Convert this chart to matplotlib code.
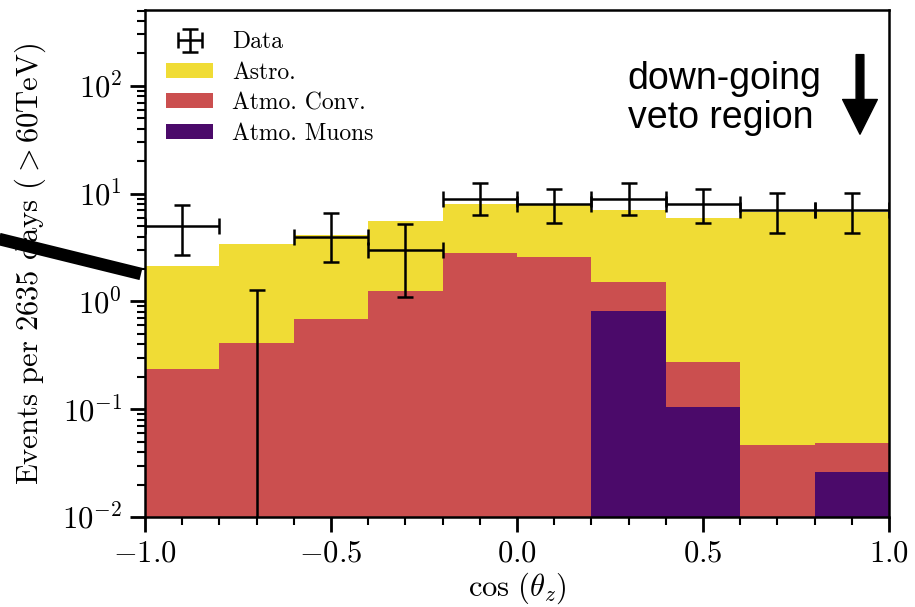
import numpy as np
import matplotlib
matplotlib.use("Agg")
import matplotlib.pyplot as plt
from matplotlib.patches import Patch
from matplotlib.lines import Line2D

plt.rcParams['font.family'] = 'serif'
plt.rcParams['font.serif'] = ['cmr10', 'DejaVu Serif']
plt.rcParams['mathtext.fontset'] = 'cm'
plt.rcParams['axes.formatter.use_mathtext'] = True
plt.rcParams['axes.unicode_minus'] = True

# ---- data ----
bin_edges = [-1.0, -0.8, -0.6, -0.4, -0.2, 0.0, 0.2, 0.4, 0.6, 0.8, 1.0]
atmo_muons = [0.0, 0.0, 0.0, 0.0, 0.0, 0.0, 0.81, 0.104, 0.0, 0.026]
atmo_conv = [0.234, 0.41, 0.68, 1.26, 2.84, 2.61, 0.69, 0.168, 0.047, 0.023]
astro = [1.92, 3.03, 3.42, 4.36, 5.24, 5.29, 5.60, 5.73, 6.75, 6.70]
data_counts = [5.0, 0.0, 4.0, 3.0, 9.0, 8.0, 9.0, 8.0, 7.0, 7.0]
data_err_lo = [2.28, 0.0, 1.70, 1.90, 2.60, 2.70, 2.60, 2.70, 2.70, 2.70]
data_err_hi = [2.90, 1.29, 2.67, 2.27, 3.60, 3.10, 3.60, 3.10, 3.20, 3.20]

col_astro = '#f0dc35'
col_conv = '#cb4f4f'
col_muon = '#4b0a6a'

edges = np.array(bin_edges)
centers = 0.5 * (edges[:-1] + edges[1:])
widths = np.diff(edges)
mu = np.array(atmo_muons)
cv = np.array(atmo_conv)
ast = np.array(astro)

fig = plt.figure(figsize=(9.15, 6.07), dpi=100)
ax = fig.add_axes([145/915, 1-517/607, (889-145)/915, (517-10)/607])

ax.bar(centers, mu, width=widths, bottom=0, color=col_muon, linewidth=0, align='center')
ax.bar(centers, cv, width=widths, bottom=mu, color=col_conv, linewidth=0, align='center')
ax.bar(centers, ast, width=widths, bottom=mu + cv, color=col_astro, linewidth=0, align='center')

eb = ax.errorbar(centers, data_counts, xerr=widths / 2,
                 yerr=[data_err_lo, data_err_hi], fmt='none', ecolor='black',
                 elinewidth=1.8, capsize=5.5, capthick=1.8, zorder=5)

ax.set_yscale('log')
ax.set_xlim(-1.0, 1.0)
ax.set_ylim(1e-2, 506)

ax.xaxis.set_major_locator(matplotlib.ticker.MultipleLocator(0.5))
ax.xaxis.set_minor_locator(matplotlib.ticker.MultipleLocator(0.1))
ax.tick_params(which='both', direction='out', top=False, right=False, labelsize=22)
ax.tick_params(which='major', length=10.5, width=2.0, pad=6)
ax.tick_params(which='minor', length=5.5, width=1.5)
for s in ax.spines.values():
    s.set_linewidth(1.8)

ax.set_xlabel(r'$\cos\,(\theta_z)$', fontsize=22, labelpad=2)
ax.set_ylabel(r'Events per 2635 days $(>60\mathrm{TeV})$', fontsize=22, labelpad=10)

handles = [eb,
           Patch(facecolor=col_astro, edgecolor='none'),
           Patch(facecolor=col_conv, edgecolor='none'),
           Patch(facecolor=col_muon, edgecolor='none')]
labels = ['Data', 'Astro.', 'Atmo. Conv.', 'Atmo. Muons']
ax.legend(handles, labels, loc='upper left', frameon=False, fontsize=17,
          handlelength=2.0, handleheight=0.6, labelspacing=0.35)

ax.text(0.649, 0.826, 'down-going\nveto region', transform=ax.transAxes,
        fontsize=27, family=['Liberation Sans', 'DejaVu Sans'],
        ha='left', va='center', linespacing=1.12)

ax.annotate('', xy=(0.961, 0.755), xytext=(0.961, 0.912), xycoords='axes fraction',
            arrowprops=dict(arrowstyle='simple,head_length=25,head_width=25,tail_width=5.6',
                            mutation_scale=1, color='black', shrinkA=0, shrinkB=0))

# thick annotation stroke on the left
fig.add_artist(Line2D([-5/915, 141/915], [1-238/607, 1-274/607],
                      transform=fig.transFigure, color='black', lw=9,
                      solid_capstyle='butt'))

fig.savefig('out.png', dpi=100)
